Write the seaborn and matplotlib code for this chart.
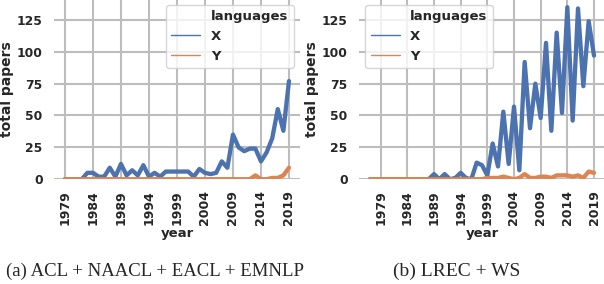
import pandas as pd
import seaborn as sns
import matplotlib.pyplot as plt
from matplotlib.lines import Line2D

# Data
years_a = list(range(1979, 2020))
x_a = [0, 0, 0, 0, 5, 5, 2, 2, 9, 2, 12, 3, 7, 3, 11, 2, 5, 2, 6, 6, 6,
       6, 6, 2, 8, 5, 4, 5, 14, 9, 35, 25, 22, 24, 24, 14, 21, 32, 55, 38, 77]
y_a = [0] * 34 + [3, 0, 0, 1, 1, 3, 9]

years_b = list(range(1977, 2020))
x_b = [0] * 12 + [4, 0, 4, 0, 1, 5, 1, 0, 13, 11, 3, 28, 10, 53, 12, 57, 7,
                  92, 40, 75, 48, 107, 38, 115, 52, 135, 46, 134, 73, 124, 97]
y_b = [0] * 22 + [1, 1, 1, 2, 1, 0, 1, 4, 1, 1, 2, 2, 1, 3, 3, 3, 2, 3, 1, 6, 5]

languages = ['X', 'Y']
captions = ['(a) ACL + NAACL + EACL + EMNLP', '(b) LREC + WS']
year_ticks = list(range(1979, 2020, 5))
paper_ticks = [0, 25, 50, 75, 100, 125]

# Style
sns.set_theme(style='whitegrid', palette='deep', rc={
    'grid.color': '#bdbdbd',
    'grid.linewidth': 1.5,
})
plt.rcParams['font.family'] = ['DejaVu Sans']
plt.rcParams['font.weight'] = 'bold'
plt.rcParams['axes.labelweight'] = 'bold'

colors = sns.color_palette('deep')[:2]


def make_frame(years, xs, ys):
    return pd.DataFrame({
        'year': years * 2,
        'total papers': xs + ys,
        'languages': [languages[0]] * len(years) + [languages[1]] * len(years),
    })


df_a = make_frame(years_a, x_a, y_a)
df_b = make_frame(years_b, x_b, y_b)

fig = plt.figure(figsize=(6.04, 2.84), dpi=100)
ax1 = fig.add_axes([0.089, 0.369, 0.408, 0.636])
ax2 = fig.add_axes([0.594, 0.369, 0.408, 0.636], sharey=ax1)

for ax, df, loc in [(ax1, df_a, 'upper right'), (ax2, df_b, 'upper left')]:
    sns.lineplot(data=df, x='year', y='total papers', hue='languages',
                 palette=colors, linewidth=3.1, legend=False, ax=ax)
    ax.set_xticks(year_ticks)
    ax.set_yticks(paper_ticks)
    ax.tick_params(axis='x', rotation=90, labelsize=9, pad=2)
    ax.tick_params(axis='y', labelsize=8.8, pad=2)
    ax.set_xlabel('year', fontsize=9.5, labelpad=1)
    ax.set_ylabel('total papers', fontsize=10, labelpad=2)
    sns.despine(ax=ax, left=True, bottom=True)

    # seaborn-style legend: title as a label with an empty handle
    handles = [Line2D([], [], color='none')]
    handles += [Line2D([], [], color=c, lw=1) for c in colors]
    ax.legend(handles, ['languages'] + languages, loc=loc, fontsize=9.5,
              handlelength=2.2)

ax1.set_ylim(bottom=0)

# Captions under each panel
fig.text(155 / 604, 0.028, captions[0], ha='center', va='baseline',
         family='Liberation Serif', fontweight='normal', fontsize=13.5)
fig.text(457 / 604, 0.028, captions[1], ha='center', va='baseline',
         family='Liberation Serif', fontweight='normal', fontsize=14)

plt.savefig('out.png', dpi=100)
